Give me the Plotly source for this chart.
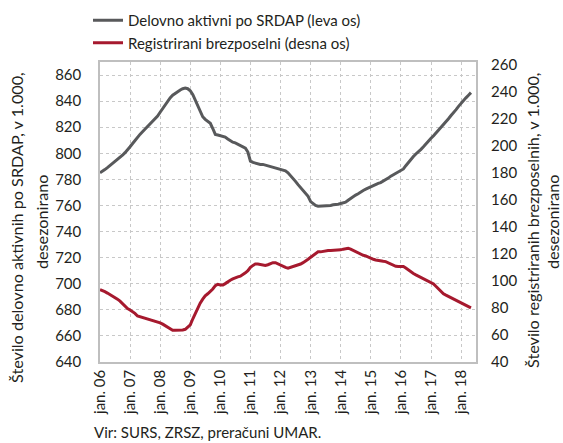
import pandas as pd
import plotly.graph_objects as go

start_month = "2006-01-01"
n_months = 149

delovno_aktivni = [
    785, 786, 787.5, 789, 790.5, 792, 793.5, 795, 796.5, 798.5, 800.5, 802.5,
    805, 807.5, 810, 812.5, 814.5, 816.5, 818.5, 820.5, 822, 824, 826, 828.5,
    831.5, 834.5, 837.5, 840.5, 842.5, 844.5, 846, 847, 848.5, 849.5, 850, 849.5,
    848, 845, 841, 837, 832, 828, 826, 824.5, 823, 819, 814.5, 814,
    813.5, 813.5, 812.5, 811, 809.5, 808.5, 808, 807, 806, 805.5, 804, 801,
    794, 793, 792.5, 792, 791.5, 791.5, 791, 790, 789.5, 789, 788.5, 788,
    787.5, 787, 786.5, 785, 783, 781, 778.5, 776, 773.5, 771, 769, 767,
    763, 761, 760, 759.5, 759.5, 760, 760, 760, 760, 760.5, 760.5, 761,
    761.5, 762, 762.5, 764, 765.5, 766.5, 768, 769, 770.5, 771.5, 772.5, 773.5,
    774.5, 775.5, 776.5, 777, 777.5, 778.5, 779.5, 781, 782.5, 783.5, 784.5, 785.5,
    786.5, 788, 790.5, 793, 795.5, 797.5, 799.5, 801, 803, 805, 807.5, 809.5,
    811.5, 813.5, 815.5, 817, 819.5, 822, 824, 826.5, 829, 831, 833.5, 836,
    838.5, 840.5, 842.5, 844.5, 846.5,
]

brezposelni = [
    93.5, 93, 92, 91, 90, 89, 88, 86.5, 85, 83, 81, 79.5,
    78.5, 77.5, 76, 74, 73.5, 73, 72.5, 72, 71.5, 71, 70.5, 70,
    69, 68, 67, 65.5, 64.5, 63.5, 63.5, 63.5, 63.5, 63.7, 64.2, 65.5,
    67.5, 72, 76, 80, 83.5, 86.5, 89, 90.5, 92, 94, 96.5, 97.5,
    97, 97, 98, 99.5, 100.5, 101.5, 102.5, 103, 103.5, 104.5, 106, 107.5,
    110, 111.5, 112.5, 112.5, 112, 111.5, 111.5, 112, 113, 113.5, 113.5, 112.5,
    111.5, 110.5, 110, 109.5, 110, 110.5, 111, 111.5, 112.5, 113.5, 114.5, 116,
    117.5, 119, 120.5, 121.5, 121.5, 122, 122.5, 122.5, 122.5, 122.5, 122.5, 122.5,
    123, 123.5, 124, 124.2, 123.5, 122.5, 121.5, 120.5, 119.5, 119, 118.5, 117.5,
    116.5, 116, 115.5, 115, 114.8, 114.5, 114.3, 113.5, 112.5, 111.5, 110.8, 110.6,
    110.6, 110.6, 109.5, 108, 106.5, 105.5, 104.5, 103.5, 102.8, 102, 101, 100,
    99, 97.8, 96, 94, 92, 90.5, 89.5, 88.5, 87.5, 87, 86, 85,
    84, 83, 82, 81, 80,
]

tick_years = list(range(2006, 2019))
tick_labels = ["jan. %02d" % (y % 100) for y in tick_years]
left_ticks = list(range(640, 861, 20))
right_ticks = list(range(40, 261, 20))

left_title = ["Število delovno aktivnih po SRDAP, v 1.000,", "desezonirano"]
right_title = ["Število registriranih brezposelnih, v 1.000,", "desezonirano"]
source = "Vir: SURS, ZRSZ, preračuni UMAR."

dates = pd.date_range(start_month, periods=n_months, freq="MS")
tick_dates = [pd.Timestamp(year=y, month=1, day=1) for y in tick_years]

FONT = "Lato"
TXT = "#231f20"
GRID = "#c8c8c8"
W, H = 563, 443
L, R, T, B = 100, 87, 62, 81
PW, PH = W - L - R, H - T - B


def px_x(px):
    return (px - L) / PW


def px_y(py):
    return (H - B - py) / PH


fig = go.Figure()
fig.add_trace(go.Scatter(
    x=dates, y=delovno_aktivni, mode="lines", name="Delovno aktivni po SRDAP (leva os)",
    line=dict(color="#58595b", width=3), legendgroup="a", yaxis="y"))
fig.add_trace(go.Scatter(
    x=dates, y=brezposelni, mode="lines", name="Registrirani brezposelni (desna os)",
    line=dict(color="#a6192e", width=3), legendgroup="b", yaxis="y2"))

annotations = []
for txt, cx, cy in [(left_title[0], 16, 228), (left_title[1], 41, 222),
                    (right_title[0], 533, 220), (right_title[1], 552, 222)]:
    annotations.append(dict(
        text=txt, xref="paper", yref="paper", x=px_x(cx), y=px_y(cy),
        xanchor="center", yanchor="middle", textangle=-90, showarrow=False,
        font=dict(size=16.2, color=TXT)))
annotations.append(dict(
    text=source, xref="paper", yref="paper", x=px_x(92), y=px_y(432),
    xanchor="left", yanchor="middle", showarrow=False, font=dict(size=15, color=TXT)))

fig.update_layout(
    width=W, height=H,
    margin=dict(l=L, r=R, t=T, b=B, autoexpand=False),
    paper_bgcolor="white", plot_bgcolor="white",
    font=dict(family=FONT, size=15, color=TXT),
    showlegend=True,
    legend=dict(xref="container", yref="container",
                x=88 / W, y=1 - 4 / H, xanchor="left", yanchor="top",
                tracegroupgap=0, font=dict(size=15), bgcolor="rgba(0,0,0,0)"),
    xaxis=dict(
        type="date", range=["2006-01-01", "2018-07-01"],
        tickvals=tick_dates, ticktext=tick_labels, tickangle=-90,
        showgrid=True, gridcolor=GRID, griddash="dot", gridwidth=1,
        showline=True, linecolor="#bfbfbf", linewidth=1.5, mirror=True,
        ticks="", zeroline=False, tickfont=dict(size=15), automargin=False,
    ),
    yaxis=dict(
        range=[640, 870], tickvals=left_ticks,
        showgrid=True, gridcolor=GRID, griddash="dot", gridwidth=1,
        showline=True, linecolor="#bfbfbf", linewidth=1.5, mirror=True,
        ticks="", zeroline=False, ticklabelstandoff=14, tickfont=dict(size=15),
        automargin=False,
    ),
    yaxis2=dict(
        range=[40, 262], tickvals=right_ticks, overlaying="y", side="right",
        showgrid=False, showline=False, ticks="", zeroline=False,
        ticklabelstandoff=14, tickfont=dict(size=15), automargin=False,
    ),
    annotations=annotations,
)

fig.write_html("out.html", config={"displayModeBar": False},
               post_script="document.body.style.margin='0';document.body.style.padding='0';")
